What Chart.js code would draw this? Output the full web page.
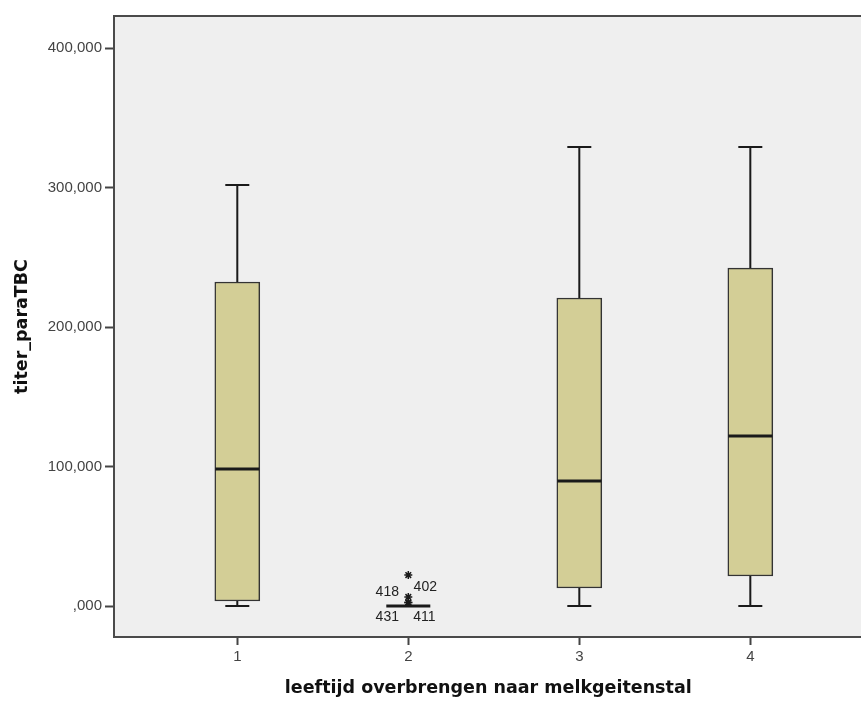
<!DOCTYPE html>
<html>
<head>
<meta charset="utf-8">
<title>titer_paraTBC boxplot</title>
<script src="https://cdn.jsdelivr.net/npm/chart.js@4"></script>
<style>
    html, body { margin: 0; background: #fff; overflow: hidden; width: 861px; height: 702px; }
</style>
</head>
<body>
<canvas id="boxChart" width="868" height="702"></canvas>
<script>
// Boxplot data per group (leeftijd overbrengen naar melkgeitenstal)
const groups = [1, 2, 3, 4];
const whiskerLow = [0, 0, 0, 0];
const q1 = [3600, 0, 12900, 21500];
const median = [98200, 0, 89600, 121900];
const q3 = [232300, 0, 220800, 242300];
const whiskerHigh = [301800, 0, 329000, 329000];

// Outliers / extremes in group 2
const outlierGroup = [2, 2, 2, 2];
const outlierValues = [22200, 6500, 2500, 2500];
const outlierCases = ['402', '418', '431', '411'];

const yTicks = [0, 100000, 200000, 300000, 400000];

const tickFont = { family: "'Liberation Sans', Arial, sans-serif", size: 15 };
const titleFont = { family: "'DejaVu Sans', Verdana, sans-serif", size: 17.5, weight: 'bold' };

const boxPlotExtras = {
    id: 'boxPlotExtras',
    beforeDraw(chart) {
        const { ctx, chartArea: a } = chart;
        ctx.save();
        ctx.fillStyle = '#efefef';
        ctx.fillRect(a.left, a.top, chart.width - a.left, a.bottom - a.top);
        ctx.restore();
    },
    afterDatasetsDraw(chart) {
        const { ctx, scales: { x, y } } = chart;
        ctx.save();
        ctx.strokeStyle = '#1a1a1a';
        ctx.lineCap = 'butt';

        groups.forEach((g, i) => {
            const px = x.getPixelForValue(g);
            const half = 22;
            const cap = 12;

            // whiskers
            ctx.lineWidth = 2;
            ctx.beginPath();
            ctx.moveTo(px, y.getPixelForValue(q3[i]));
            ctx.lineTo(px, y.getPixelForValue(whiskerHigh[i]));
            ctx.moveTo(px - cap, y.getPixelForValue(whiskerHigh[i]));
            ctx.lineTo(px + cap, y.getPixelForValue(whiskerHigh[i]));
            ctx.moveTo(px, y.getPixelForValue(q1[i]));
            ctx.lineTo(px, y.getPixelForValue(whiskerLow[i]));
            ctx.moveTo(px - cap, y.getPixelForValue(whiskerLow[i]));
            ctx.lineTo(px + cap, y.getPixelForValue(whiskerLow[i]));
            ctx.stroke();

            // median
            ctx.lineWidth = 3;
            ctx.beginPath();
            ctx.moveTo(px - half, y.getPixelForValue(median[i]));
            ctx.lineTo(px + half, y.getPixelForValue(median[i]));
            ctx.stroke();
        });

        // case labels next to the outliers
        const labelOffsets = { '402': [17, 12], '418': [-21, -5], '431': [-21, 15], '411': [16, 15] };
        ctx.fillStyle = '#222';
        ctx.font = "14px 'Liberation Sans', Arial, sans-serif";
        ctx.textAlign = 'center';
        ctx.textBaseline = 'middle';
        outlierCases.forEach((c, i) => {
            const off = labelOffsets[c] || [14, 0];
            const px = x.getPixelForValue(outlierGroup[i]);
            const py = y.getPixelForValue(outlierValues[i]);
            ctx.fillText(c, px + off[0], py + off[1]);
        });
        ctx.restore();
    },
    afterDraw(chart) {
        const { ctx, chartArea: a } = chart;
        ctx.save();
        ctx.strokeStyle = '#4a4a4a';
        ctx.lineWidth = 2;
        ctx.beginPath();
        ctx.moveTo(chart.width, a.top);
        ctx.lineTo(a.left, a.top);
        ctx.lineTo(a.left, a.bottom);
        ctx.lineTo(chart.width, a.bottom);
        ctx.stroke();
        ctx.restore();
    }
};

const boxChart = new Chart(document.getElementById('boxChart'), {
    data: {
        datasets: [
            {
                type: 'bar',
                data: groups.map((g, i) => ({ x: g, y: [q1[i], q3[i]] })),
                backgroundColor: '#d3ce96',
                borderColor: '#333',
                borderWidth: 1.5,
                borderSkipped: false,
                barThickness: 45
            },
            {
                type: 'scatter',
                data: outlierGroup.map((g, i) => ({ x: g, y: outlierValues[i] })),
                pointStyle: 'star',
                radius: 4,
                borderColor: '#1a1a1a',
                borderWidth: 1.5,
                backgroundColor: '#1a1a1a'
            }
        ]
    },
    options: {
        responsive: false,
        animation: false,
        layout: { padding: { top: 16, right: 0, bottom: 0, left: 0 } },
        plugins: {
            legend: { display: false },
            tooltip: { enabled: false }
        },
        scales: {
            x: {
                type: 'linear',
                offset: false,
                min: 0.279,
                max: 4.656,
                afterBuildTicks: s => { s.ticks = groups.map(v => ({ value: v })); },
                afterFit: s => { s.height = 65; },
                border: { display: false },
                grid: { offset: false, drawOnChartArea: false, tickLength: 8, tickColor: '#444', tickWidth: 2 },
                ticks: { font: tickFont, color: '#444', padding: 3, callback: v => String(v) },
                title: {
                    display: true,
                    text: 'leeftijd overbrengen naar melkgeitenstal',
                    font: titleFont,
                    color: '#111',
                    padding: { top: 0, bottom: 3 }
                }
            },
            y: {
                min: -22200,
                max: 423000,
                afterBuildTicks: s => { s.ticks = yTicks.map(v => ({ value: v })); },
                afterFit: s => { s.width = 114; },
                border: { display: false },
                grid: { drawOnChartArea: false, tickLength: 9, tickColor: '#444', tickWidth: 2 },
                ticks: {
                    font: tickFont,
                    color: '#444',
                    padding: 3,
                    callback: v => (v === 0 ? '' : String(v / 1000)) + ',000'
                },
                title: {
                    display: true,
                    text: 'titer_paraTBC',
                    font: titleFont,
                    color: '#111',
                    padding: { top: 12, bottom: 0 }
                }
            }
        }
    },
    plugins: [boxPlotExtras]
});
</script>
</body>
</html>
